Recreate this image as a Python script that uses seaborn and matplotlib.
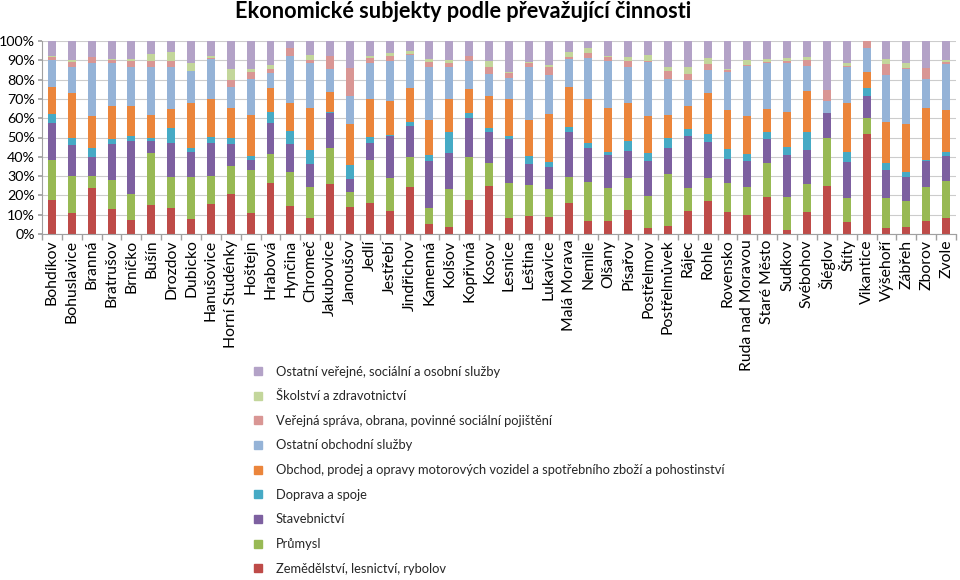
import matplotlib
matplotlib.use("Agg")
import matplotlib.pyplot as plt
from matplotlib.lines import Line2D
from matplotlib.ticker import FixedLocator, FuncFormatter
import seaborn as sns
import pandas as pd
import numpy as np

obce = ["Bohdíkov", "Bohuslavice", "Branná", "Bratrušov", "Brníčko", "Bušín", "Drozdov",
        "Dubicko", "Hanušovice", "Horní Studénky", "Hoštejn", "Hrabová", "Hynčina", "Chromeč",
        "Jakubovice", "Janoušov", "Jedlí", "Jestřebí", "Jindřichov", "Kamenná", "Kolšov",
        "Kopřivná", "Kosov", "Lesnice", "Leština", "Lukavice", "Malá Morava", "Nemile",
        "Olšany", "Písařov", "Postřelmov", "Postřelmůvek", "Rájec", "Rohle", "Rovensko",
        "Ruda nad Moravou", "Staré Město", "Sudkov", "Svébohov", "Šléglov", "Štíty",
        "Vikantice", "Výšehoří", "Zábřeh", "Zborov", "Zvole"]

zemedelstvi = [17.6, 11, 24, 13, 7.3, 15, 13.6, 7.8, 15.4, 20.6, 11, 26.6, 14.5, 8.5, 25.9, 14.2,
               15.9, 11.9, 24.5, 5.2, 3.8, 17.6, 25, 8.1, 9.3, 9, 16.2, 6.9, 6.7, 12.4, 3.3, 4.1,
               11.9, 17.3, 11.2, 9.8, 19.3, 2.1, 11.6, 24.9, 6.4, 51.8, 2.9, 3.5, 6.9, 8.5]
prumysl = [20.7, 19, 6, 15, 13.3, 26.8, 15.8, 21.9, 14.8, 14.6, 22.2, 14.7, 17.8, 16, 18.8, 7.4,
           22.4, 17.3, 15.6, 8.1, 19.3, 22.5, 12, 18.2, 16.1, 14.3, 13.5, 20.2, 17, 16.4, 16.4,
           26.8, 11.8, 11.5, 15.1, 14.4, 17.3, 17.2, 14.3, 25, 12.1, 8.1, 15.6, 13.8, 17.3, 19.1]
stavebnictvi = [19.4, 16, 10, 18.6, 27.6, 6.4, 17.6, 12.6, 17.1, 11.3, 5.1, 16.4, 14.2, 11.6, 18.2,
                6.9, 9, 21.8, 15.9, 24.5, 19, 19.8, 16, 22.7, 10.9, 11.2, 23.3, 17.3, 17.2, 14.4,
                18.1, 13.5, 27.3, 19, 12.4, 13.8, 12.4, 21.6, 17.6, 12.6, 18.6, 11.8, 14.7, 12.4,
                13.6, 12.8]
doprava = [4.3, 4, 4.7, 2.6, 2.6, 1.8, 7.7, 2.4, 3.1, 3.5, 2.1, 5.3, 7, 7.4, 0.3, 7.3, 2.8, 0.5,
           2.2, 3.2, 10.9, 2.6, 2.1, 2, 4.3, 3, 2.3, 2.6, 1.8, 5.2, 4, 5.5, 3.2, 4, 5.2, 3.5, 3.7,
           4.4, 9.5, 0, 5.6, 4.1, 3.4, 2.6, 0.3, 2.3]
obchod = [14.3, 22.9, 16.6, 17.1, 15.5, 11.7, 10.1, 23, 19.6, 15.1, 21.3, 12.5, 14.2, 21.6, 10.8,
          21.2, 19.7, 17.6, 17.3, 18.1, 17, 12.5, 16.4, 18.8, 18.5, 24.7, 21, 23, 22.8, 19.6,
          19.5, 11.8, 12.1, 21.1, 20.3, 19.8, 12.1, 18.1, 21.1, 0, 25, 8, 21.3, 24.5, 27.4, 21.5]
ostatni_obchodni = [13.9, 13.8, 27.1, 22.1, 20.4, 25, 21.9, 16.8, 20.7, 10.9, 18.4, 7.7, 24.7,
                    23.3, 11.6, 14.5, 18.6, 20.7, 17.2, 27.6, 16.7, 14.6, 11.2, 11.2, 27.6, 20.2,
                    14.4, 21.4, 24.1, 18.4, 27.6, 18.4, 13.5, 12.1, 19.6, 25.9, 23.6, 25.4, 13.1,
                    6.6, 18.7, 12.4, 24.5, 28.5, 14.6, 23.7]
verejna_sprava = [1.3, 2.6, 3.5, 1.8, 2.9, 2.9, 2.9, 0, 0.5, 3.8, 3.7, 2.1, 3.8, 1.8, 7.1, 14.3,
                  2.6, 2.6, 0.5, 2.3, 1.7, 2.8, 3.7, 2.2, 1.7, 4, 0.8, 2.6, 1.9, 3.4, 0.5, 4.4,
                  3.1, 2.9, 1.2, 0.5, 0.9, 0.8, 3, 5.5, 0.8, 3.8, 5.5, 0.5, 6.1, 1.1]
skolstvi = [0.9, 0.7, 0, 0.5, 0.9, 3.7, 4.5, 3.9, 1.2, 5.5, 1.7, 2.3, 0, 2.5, 0, 0, 1.2, 1.2,
            1.6, 1.5, 1.8, 0, 3.4, 0.6, 0.9, 1.2, 2.6, 2.2, 0.9, 2.1, 3.3, 2.2, 3.5, 3.1, 0.5,
            2.5, 1.4, 1.4, 1.7, 0, 1.2, 0, 2.6, 2.6, 0, 1.2]
ostatni_verejne = [7.6, 10, 8.1, 9.3, 9.5, 6.7, 5.9, 11.6, 7.6, 14.7, 14.5, 12.4, 3.8, 7.3, 7.6,
                   14.2, 7.8, 6.4, 5.2, 9.5, 9.8, 7.6, 10.2, 16.2, 10.7, 12.4, 5.9, 3.8, 7.6, 8.1,
                   7.3, 13.3, 13.6, 9, 14.5, 9.8, 9.3, 9, 8.1, 25.4, 11.6, 0, 9.5, 11.6, 13.8, 9.8]

serie_nazvy = ["Zemědělství, lesnictví, rybolov",
               "Průmysl",
               "Stavebnictví",
               "Doprava a spoje",
               "Obchod, prodej a opravy motorových vozidel a spotřebního zboží a pohostinství",
               "Ostatní obchodní služby",
               "Veřejná správa, obrana, povinné sociální pojištění",
               "Školství a zdravotnictví",
               "Ostatní veřejné, sociální a osobní služby"]
serie_hodnoty = [zemedelstvi, prumysl, stavebnictvi, doprava, obchod, ostatni_obchodni,
                 verejna_sprava, skolstvi, ostatni_verejne]
barvy = ["#BE4B48", "#98B954", "#7D60A0", "#46AAC5", "#EB853B", "#95B3D7", "#D99694",
         "#C3D69B", "#B3A2C7"]

sns.set_theme(style="white")
plt.rcParams["font.family"] = ["Lato", "DejaVu Sans"]

vals = np.array(serie_hodnoty, dtype=float)
vals = vals / vals.sum(axis=0) * 100.0
cum = np.cumsum(vals, axis=0)

fig = plt.figure(figsize=(9.6, 5.8), dpi=100)
ax = fig.add_axes([42 / 960, 1 - 234 / 580, 914 / 960, 193 / 580])

for k in range(len(serie_nazvy) - 1, -1, -1):
    df = pd.DataFrame({"obec": obce, "podil": cum[k]})
    sns.barplot(data=df, x="obec", y="podil", order=obce, color=barvy[k], saturation=1,
                width=0.4, linewidth=0, ax=ax, errorbar=None)

ax.set_xlim(-0.5, len(obce) - 0.5)
ax.set_ylim(0, 100)
ax.set_yticks(np.arange(0, 101, 10))
ax.yaxis.set_major_formatter(FuncFormatter(lambda v, p: f"{int(round(v))}%"))
ax.set_axisbelow(True)
ax.yaxis.grid(True, color="#CCCCCC", linewidth=0.8)
ax.set_xlabel("")
ax.set_ylabel("")
ax.set_xticks(range(len(obce)))
ax.set_xticklabels(obce, rotation=90, fontsize=11.3, color="black")
ax.xaxis.set_minor_locator(FixedLocator(np.arange(-0.5, len(obce), 1)))
ax.tick_params(axis="x", which="major", length=0, pad=4)
ax.tick_params(axis="x", which="minor", length=4, color="#A0A0A0", bottom=True)
ax.tick_params(axis="y", labelsize=10.3, length=3, pad=2, color="#A0A0A0", left=True,
               labelcolor="black")
for s in ["top", "right"]:
    ax.spines[s].set_visible(False)
for s in ["left", "bottom"]:
    ax.spines[s].set_color("#A0A0A0")
    ax.spines[s].set_linewidth(0.8)

fig.text(463 / 960, 1 - 12 / 580, "Ekonomické subjekty podle převažující činnosti",
         ha="center", va="center", fontsize=15.6, fontweight="bold", color="black")

handles = [Line2D([0], [0], marker="s", linestyle="None", markersize=5.5,
                  markerfacecolor=barvy[k], markeredgecolor=barvy[k])
           for k in range(len(serie_nazvy) - 1, -1, -1)]
labels = [serie_nazvy[k] for k in range(len(serie_nazvy) - 1, -1, -1)]
fig.legend(handles, labels, loc="upper left", bbox_to_anchor=(254.5 / 960, 1 - 365.5 / 580),
           frameon=False, fontsize=9.3, labelspacing=0.98, handlelength=0.6,
           handletextpad=1.05, borderpad=0, borderaxespad=0)

fig.savefig("out.png", dpi=100)
